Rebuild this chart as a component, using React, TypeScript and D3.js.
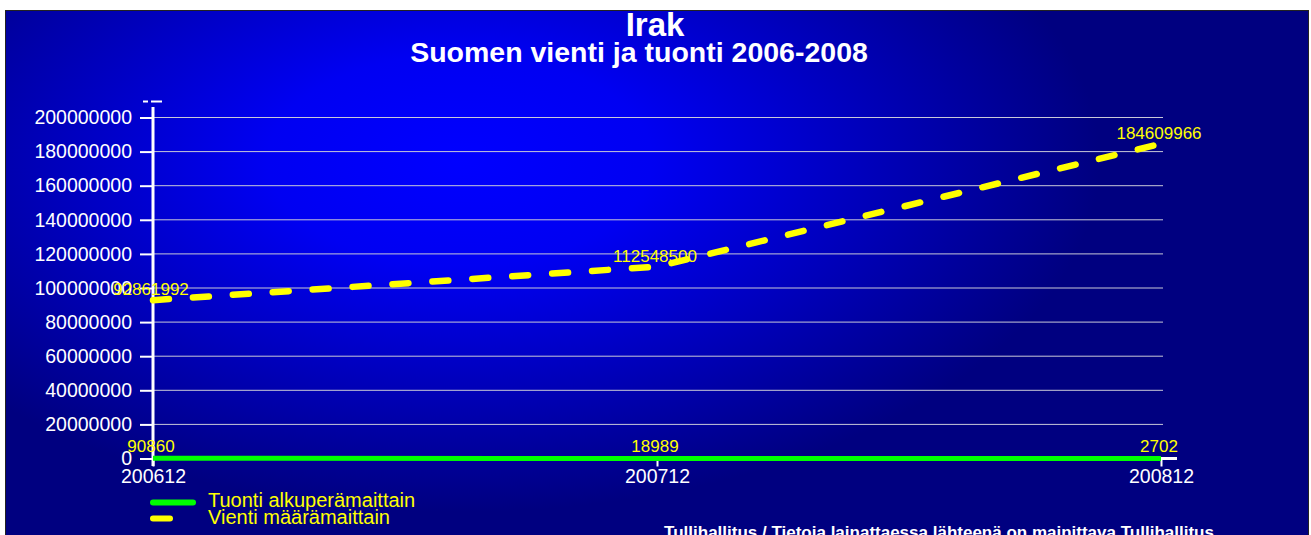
import { useEffect, useRef } from "react";
import * as d3 from "d3";

const periods = ["200612", "200712", "200812"];
const tuonti = [90860, 18989, 2702];
const vienti = [92861992, 112548500, 184609966];
const yTicks = [0, 20000000, 40000000, 60000000, 80000000, 100000000, 120000000, 140000000, 160000000, 180000000, 200000000];

export default function App() {
  const ref = useRef<SVGSVGElement | null>(null);

  useEffect(() => {
    if (!ref.current) return;
    const width = 1311;
    const height = 535;
    const svg = d3.select(ref.current);
    svg.selectAll("*").remove();
    svg.attr("viewBox", `0 0 ${width} ${height}`);

    const defs = svg.append("defs");
    const grad = defs
      .append("radialGradient")
      .attr("id", "bg")
      .attr("gradientUnits", "userSpaceOnUse")
      .attr("cx", 460)
      .attr("cy", 160)
      .attr("r", 640)
      .attr("gradientTransform", "translate(460,160) scale(1,0.55) translate(-460,-160)");
    grad.append("stop").attr("offset", "0%").attr("stop-color", "#0000ff");
    grad.append("stop").attr("offset", "30%").attr("stop-color", "#0000f2");
    grad.append("stop").attr("offset", "100%").attr("stop-color", "#000080");

    svg.append("rect").attr("x", 0).attr("y", 0).attr("width", width).attr("height", height).attr("fill", "#ffffff");
    svg
      .append("rect")
      .attr("x", 5.5)
      .attr("y", 10.5)
      .attr("width", 1303)
      .attr("height", 540)
      .attr("fill", "url(#bg)")
      .attr("stroke", "#222")
      .attr("stroke-width", 1);

    const x = d3.scalePoint<string>().domain(periods).range([153, 1161]);
    const y = d3.scaleLinear().domain([0, 200000000]).range([458.5, 117.5]);
    const font = "Arial, 'Liberation Sans', sans-serif";

    // grid
    svg
      .append("g")
      .selectAll("line")
      .data(yTicks.filter((d) => d > 0))
      .join("line")
      .attr("x1", 153)
      .attr("x2", 1163)
      .attr("y1", (d) => y(d))
      .attr("y2", (d) => y(d))
      .attr("stroke", "#c8c8d8")
      .attr("stroke-width", 1);

    // y axis
    const yAxis = svg.append("g").attr("transform", "translate(153,0)");
    yAxis.call(
      d3
        .axisLeft(y)
        .tickValues(yTicks)
        .tickSize(13)
        .tickPadding(8)
        .tickFormat((d) => String(d))
    );
    yAxis.select(".domain").remove();
    yAxis.selectAll(".tick line").attr("stroke", "#fff").attr("stroke-width", 2);
    yAxis
      .selectAll(".tick text")
      .attr("fill", "#fff")
      .attr("font-size", 19.5)
      .attr("font-family", font);
    svg.append("line").attr("x1", 153).attr("x2", 153).attr("y1", 107).attr("y2", 466).attr("stroke", "#fff").attr("stroke-width", 3);
    svg.append("line").attr("x1", 143).attr("x2", 148).attr("y1", 101.5).attr("y2", 101.5).attr("stroke", "#fff").attr("stroke-width", 2);
    svg.append("line").attr("x1", 151).attr("x2", 162).attr("y1", 101.5).attr("y2", 101.5).attr("stroke", "#fff").attr("stroke-width", 2);

    // x axis
    svg.append("line").attr("x1", 153).attr("x2", 1177).attr("y1", 458.5).attr("y2", 458.5).attr("stroke", "#fff").attr("stroke-width", 3);
    const xAxis = svg.append("g").attr("transform", "translate(0,458.5)");
    xAxis.call(d3.axisBottom(x).tickSize(8).tickPadding(3));
    xAxis.select(".domain").remove();
    xAxis.selectAll(".tick line").attr("stroke", "#fff").attr("stroke-width", 2);
    xAxis
      .selectAll(".tick text")
      .attr("fill", "#fff")
      .attr("font-size", 19.5)
      .attr("font-family", font);

    const tData = periods.map((p, i) => ({ p, v: tuonti[i] }));
    const vData = periods.map((p, i) => ({ p, v: vienti[i] }));
    const line = d3
      .line<{ p: string; v: number }>()
      .x((d) => x(d.p) as number)
      .y((d) => y(d.v))
      .curve(d3.curveLinear);

    // tuonti line
    svg
      .append("path")
      .datum(tData)
      .attr("fill", "none")
      .attr("stroke", "#00ff00")
      .attr("stroke-width", 5)
      .attr("d", line);

    // vienti line
    svg
      .append("path")
      .datum(vData)
      .attr("fill", "none")
      .attr("stroke", "#ffff00")
      .attr("stroke-width", 6.5)
      .attr("stroke-linecap", "round")
      .attr("stroke-linejoin", "round")
      .attr("stroke-dasharray", "16 24")
      .attr("d", line);

    // value labels
    const labels = svg.append("g").attr("font-family", font).attr("font-size", 17).attr("fill", "#ffff00").attr("text-anchor", "middle");
    labels
      .selectAll("text.v")
      .data(vData)
      .join("text")
      .attr("class", "v")
      .attr("x", (d) => (x(d.p) as number) - 2)
      .attr("y", (d) => y(d.v) - 5)
      .text((d) => String(d.v));
    labels
      .selectAll("text.t")
      .data(tData)
      .join("text")
      .attr("class", "t")
      .attr("x", (d) => (x(d.p) as number) - 2)
      .attr("y", (d) => y(d.v) - 6)
      .text((d) => String(d.v));

    // titles
    svg
      .append("text")
      .attr("x", 655)
      .attr("y", 36)
      .attr("text-anchor", "middle")
      .attr("font-family", font)
      .attr("font-weight", "bold")
      .attr("font-size", 33)
      .attr("fill", "#fff")
      .text("Irak");
    svg
      .append("text")
      .attr("x", 639)
      .attr("y", 62)
      .attr("text-anchor", "middle")
      .attr("font-family", font)
      .attr("font-weight", "bold")
      .attr("font-size", 28.5)
      .attr("fill", "#fff")
      .text("Suomen vienti ja tuonti 2006-2008");

    // legend
    const legend = svg.append("g").attr("font-family", font).attr("font-size", 20).attr("fill", "#ffff00");
    legend.append("line").attr("x1", 153).attr("x2", 193).attr("y1", 502.5).attr("y2", 502.5).attr("stroke", "#00ff00").attr("stroke-width", 6).attr("stroke-linecap", "round");
    legend.append("text").attr("x", 208).attr("y", 507).text("Tuonti alkuperämaittain");
    legend.append("line").attr("x1", 153).attr("x2", 170).attr("y1", 518.5).attr("y2", 518.5).attr("stroke", "#ffff00").attr("stroke-width", 6).attr("stroke-linecap", "round");
    legend.append("text").attr("x", 208).attr("y", 524).text("Vienti määrämaittain");

    svg
      .append("text")
      .attr("x", 939)
      .attr("y", 538)
      .attr("text-anchor", "middle")
      .attr("font-family", font)
      .attr("font-weight", "bold")
      .attr("font-size", 17)
      .attr("fill", "#fff")
      .text("Tullihallitus / Tietoja lainattaessa lähteenä on mainittava Tullihallitus");
  }, []);

  return (
    <svg
      ref={ref}
      width={1311}
      height={535}
      style={{ position: "absolute", left: 0, top: 0, display: "block" }}
      role="img"
      aria-label="Irak: Suomen vienti ja tuonti 2006-2008"
    />
  );
}
